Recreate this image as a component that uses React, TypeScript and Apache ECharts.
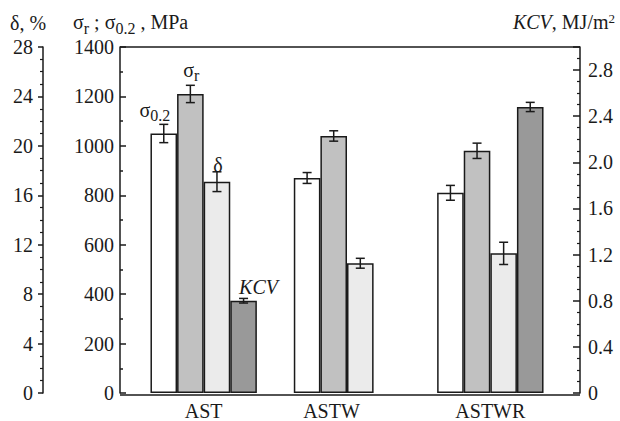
import React, { useEffect, useRef } from 'react';
import * as echarts from 'echarts';

// ---------- data ----------
const categories = ['AST', 'ASTW', 'ASTWR'];
const sigma02 = [1050, 870, 810];        // MPa
const sigma02Err = [37, 22, 30];
const sigmaR = [1210, 1040, 980];        // MPa
const sigmaRErr = [35, 21, 31];
const delta = [17.1, 10.5, 11.3];        // %
const deltaErr = [0.8, 0.4, 0.9];
const kcv: (number | null)[] = [0.8, null, 2.48]; // MJ/m2
const kcvErr: (number | null)[] = [0.02, null, 0.04];

const sigmaAxisRange = [0, 1400, 200];
const deltaAxisRange = [0, 28, 4];
const kcvAxisRange = [0, 3.0, 0.4];

// ---------- styles ----------
const FONT = 'Liberation Serif';
const INK = '#1a1a1a';
const BAR_W = 26.6;
const lineStyle = { color: INK, width: 1.5 };

function errorSeries(values: (number | null)[], errs: (number | null)[], yAxisIndex: number, slot: number) {
  const data: number[][] = [];
  values.forEach((v, i) => {
    if (v != null && errs[i] != null) data.push([i, v, errs[i] as number]);
  });
  return {
    type: 'custom',
    yAxisIndex,
    silent: true,
    z: 10,
    encode: { x: 0, y: 1 },
    data,
    renderItem: (_params: any, api: any) => {
      const i = api.value(0);
      const v = api.value(1);
      const e = api.value(2);
      const top = api.coord([i, v + e]);
      const bot = api.coord([i, v - e]);
      const x = top[0] + (slot - 1.5) * BAR_W;
      const cap = 4.5;
      const st = { stroke: INK, lineWidth: 1.5 };
      return {
        type: 'group',
        children: [
          { type: 'line', shape: { x1: x, y1: top[1], x2: x, y2: bot[1] }, style: st },
          { type: 'line', shape: { x1: x - cap, y1: top[1], x2: x + cap, y2: top[1] }, style: st },
          { type: 'line', shape: { x1: x - cap, y1: bot[1], x2: x + cap, y2: bot[1] }, style: st },
        ],
      };
    },
  };
}

const subRich = {
  s: { fontSize: 16, fontFamily: FONT, color: INK, lineHeight: 16, padding: [11, 0, 0, 0], verticalAlign: 'top' },
  m: { fontSize: 20, fontFamily: FONT, color: INK, lineHeight: 26 },
};

function withLabel(values: (number | null)[], label: any) {
  return values.map((v, i) => (v == null ? '-' : i === 0 ? { value: v, label } : v));
}

export default function App() {
  const ref = useRef<HTMLDivElement>(null);
  useEffect(() => {
    document.body.style.margin = '0';
    const chart = echarts.init(ref.current!, null, { renderer: 'svg' });
    const barItem = (color: string) => ({ color, borderColor: INK, borderWidth: 1.5 });
    const axisCommon = {
      type: 'value',
      splitLine: { show: false },
      axisLine: { show: true, lineStyle },
    };
    const tickFont = { fontSize: 20, fontFamily: FONT, color: INK };
    chart.setOption({
      animation: false,
      textStyle: { fontFamily: FONT, color: INK },
      grid: { left: 132, right: 58, top: 47, bottom: 26 },
      xAxis: {
        type: 'category',
        data: categories,
        axisLine: { show: false },
        axisTick: { show: false },
        axisLabel: {
          margin: 8,
          ...tickFont,
          formatter: (v: string) => (v === 'ASTW' ? '{w|ASTW}' : v),
          rich: { w: { ...tickFont, padding: [0, 31, 0, 0] } },
        },
      },
      yAxis: [
        {
          ...axisCommon,
          position: 'left',
          offset: 12,
          min: sigmaAxisRange[0],
          max: sigmaAxisRange[1],
          interval: sigmaAxisRange[2],
          axisTick: { show: true, inside: true, length: 6, lineStyle },
          minorTick: { show: true, splitNumber: 2, length: 3, lineStyle },
          axisLabel: { margin: 6, ...tickFont, formatter: (v: number) => String(v) },
        },
        {
          ...axisCommon,
          position: 'left',
          offset: 89,
          min: deltaAxisRange[0],
          max: deltaAxisRange[1],
          interval: deltaAxisRange[2],
          axisTick: { show: true, inside: false, length: 5, lineStyle },
          minorTick: { show: true, splitNumber: 4, length: 3, lineStyle: { color: INK, width: 1.2 } },
          axisLabel: { margin: 10, ...tickFont, formatter: (v: number) => String(v) },
        },
        {
          ...axisCommon,
          position: 'right',
          offset: 18,
          min: kcvAxisRange[0],
          max: kcvAxisRange[1],
          interval: kcvAxisRange[2],
          axisTick: { show: true, inside: true, length: 7, lineStyle },
          minorTick: { show: true, splitNumber: 4, length: 3, lineStyle: { color: INK, width: 1.2 } },
          axisLabel: {
            margin: 8,
            ...tickFont,
            showMaxLabel: false,
            formatter: (v: number) => (v === 0 ? '0' : v > 2.95 ? '' : v.toFixed(1)),
          },
        },
      ],
      graphic: [
        { type: 'line', shape: { x1: 120, y1: 47, x2: 580, y2: 47 }, style: { stroke: INK, lineWidth: 1.5 }, silent: true },
        { type: 'line', shape: { x1: 120, y1: 395, x2: 580, y2: 395 }, style: { stroke: INK, lineWidth: 1.5 }, silent: true },
        {
          type: 'text', x: 10, y: 23, silent: true,
          style: { text: 'δ, %', fontSize: 20, fontFamily: FONT, fill: INK, verticalAlign: 'middle' },
        },
        {
          type: 'text', x: 73, y: 9, silent: true,
          style: {
            text: '{m|σ}{s|r}{m| ; σ}{s|0.2}{m| , MPa}',
            fontSize: 20, fontFamily: FONT,
            fill: INK,
            verticalAlign: 'top',
            rich: subRich,
          },
        },
        {
          type: 'text', x: 615, y: 9, silent: true,
          style: {
            text: '{i|KCV}{m|, MJ/m}{p|2}',
            fontSize: 20, fontFamily: FONT,
            fill: INK,
            align: 'right',
            verticalAlign: 'top',
            rich: {
              i: { fontSize: 20, fontFamily: FONT, fontStyle: 'italic', color: INK, lineHeight: 26 },
              m: { fontSize: 20, fontFamily: FONT, color: INK, lineHeight: 26 },
              p: { fontSize: 13, fontFamily: FONT, color: INK, lineHeight: 13, padding: [3, 0, 0, 0], verticalAlign: 'top' },
            },
          },
        },
      ],
      series: [
        {
          type: 'bar',
          yAxisIndex: 0,
          barWidth: BAR_W,
          barGap: '0%',
          itemStyle: barItem('#ffffff'),
          data: withLabel(sigma02, {
            show: true, position: 'top', offset: [-9, -6],
            formatter: '{m|σ}{s|0.2}', rich: subRich,
          }),
        },
        {
          type: 'bar',
          yAxisIndex: 0,
          barWidth: BAR_W,
          barGap: '0%',
          itemStyle: barItem('#c1c1c1'),
          data: withLabel(sigmaR, {
            show: true, position: 'top', offset: [1, -6],
            formatter: '{m|σ}{s|r}', rich: subRich,
          }),
        },
        {
          type: 'bar',
          yAxisIndex: 1,
          barWidth: BAR_W,
          barGap: '0%',
          itemStyle: barItem('#ebebeb'),
          data: withLabel(delta, {
            show: true, position: 'top', offset: [1, -2],
            formatter: 'δ', fontSize: 20, fontFamily: FONT, color: INK,
          }),
        },
        {
          type: 'bar',
          yAxisIndex: 2,
          barWidth: BAR_W,
          barGap: '0%',
          itemStyle: barItem('#999999'),
          data: withLabel(kcv, {
            show: true, position: 'top', offset: [15, 1],
            formatter: 'KCV', fontSize: 20, fontFamily: FONT, fontStyle: 'italic', color: INK,
          }),
        },
        errorSeries(sigma02, sigma02Err, 0, 0),
        errorSeries(sigmaR, sigmaRErr, 0, 1),
        errorSeries(delta, deltaErr, 1, 2),
        errorSeries(kcv, kcvErr, 2, 3),
      ],
    });
    return () => chart.dispose();
  }, []);
  return <div ref={ref} style={{ width: 620, height: 421 }} />;
}
